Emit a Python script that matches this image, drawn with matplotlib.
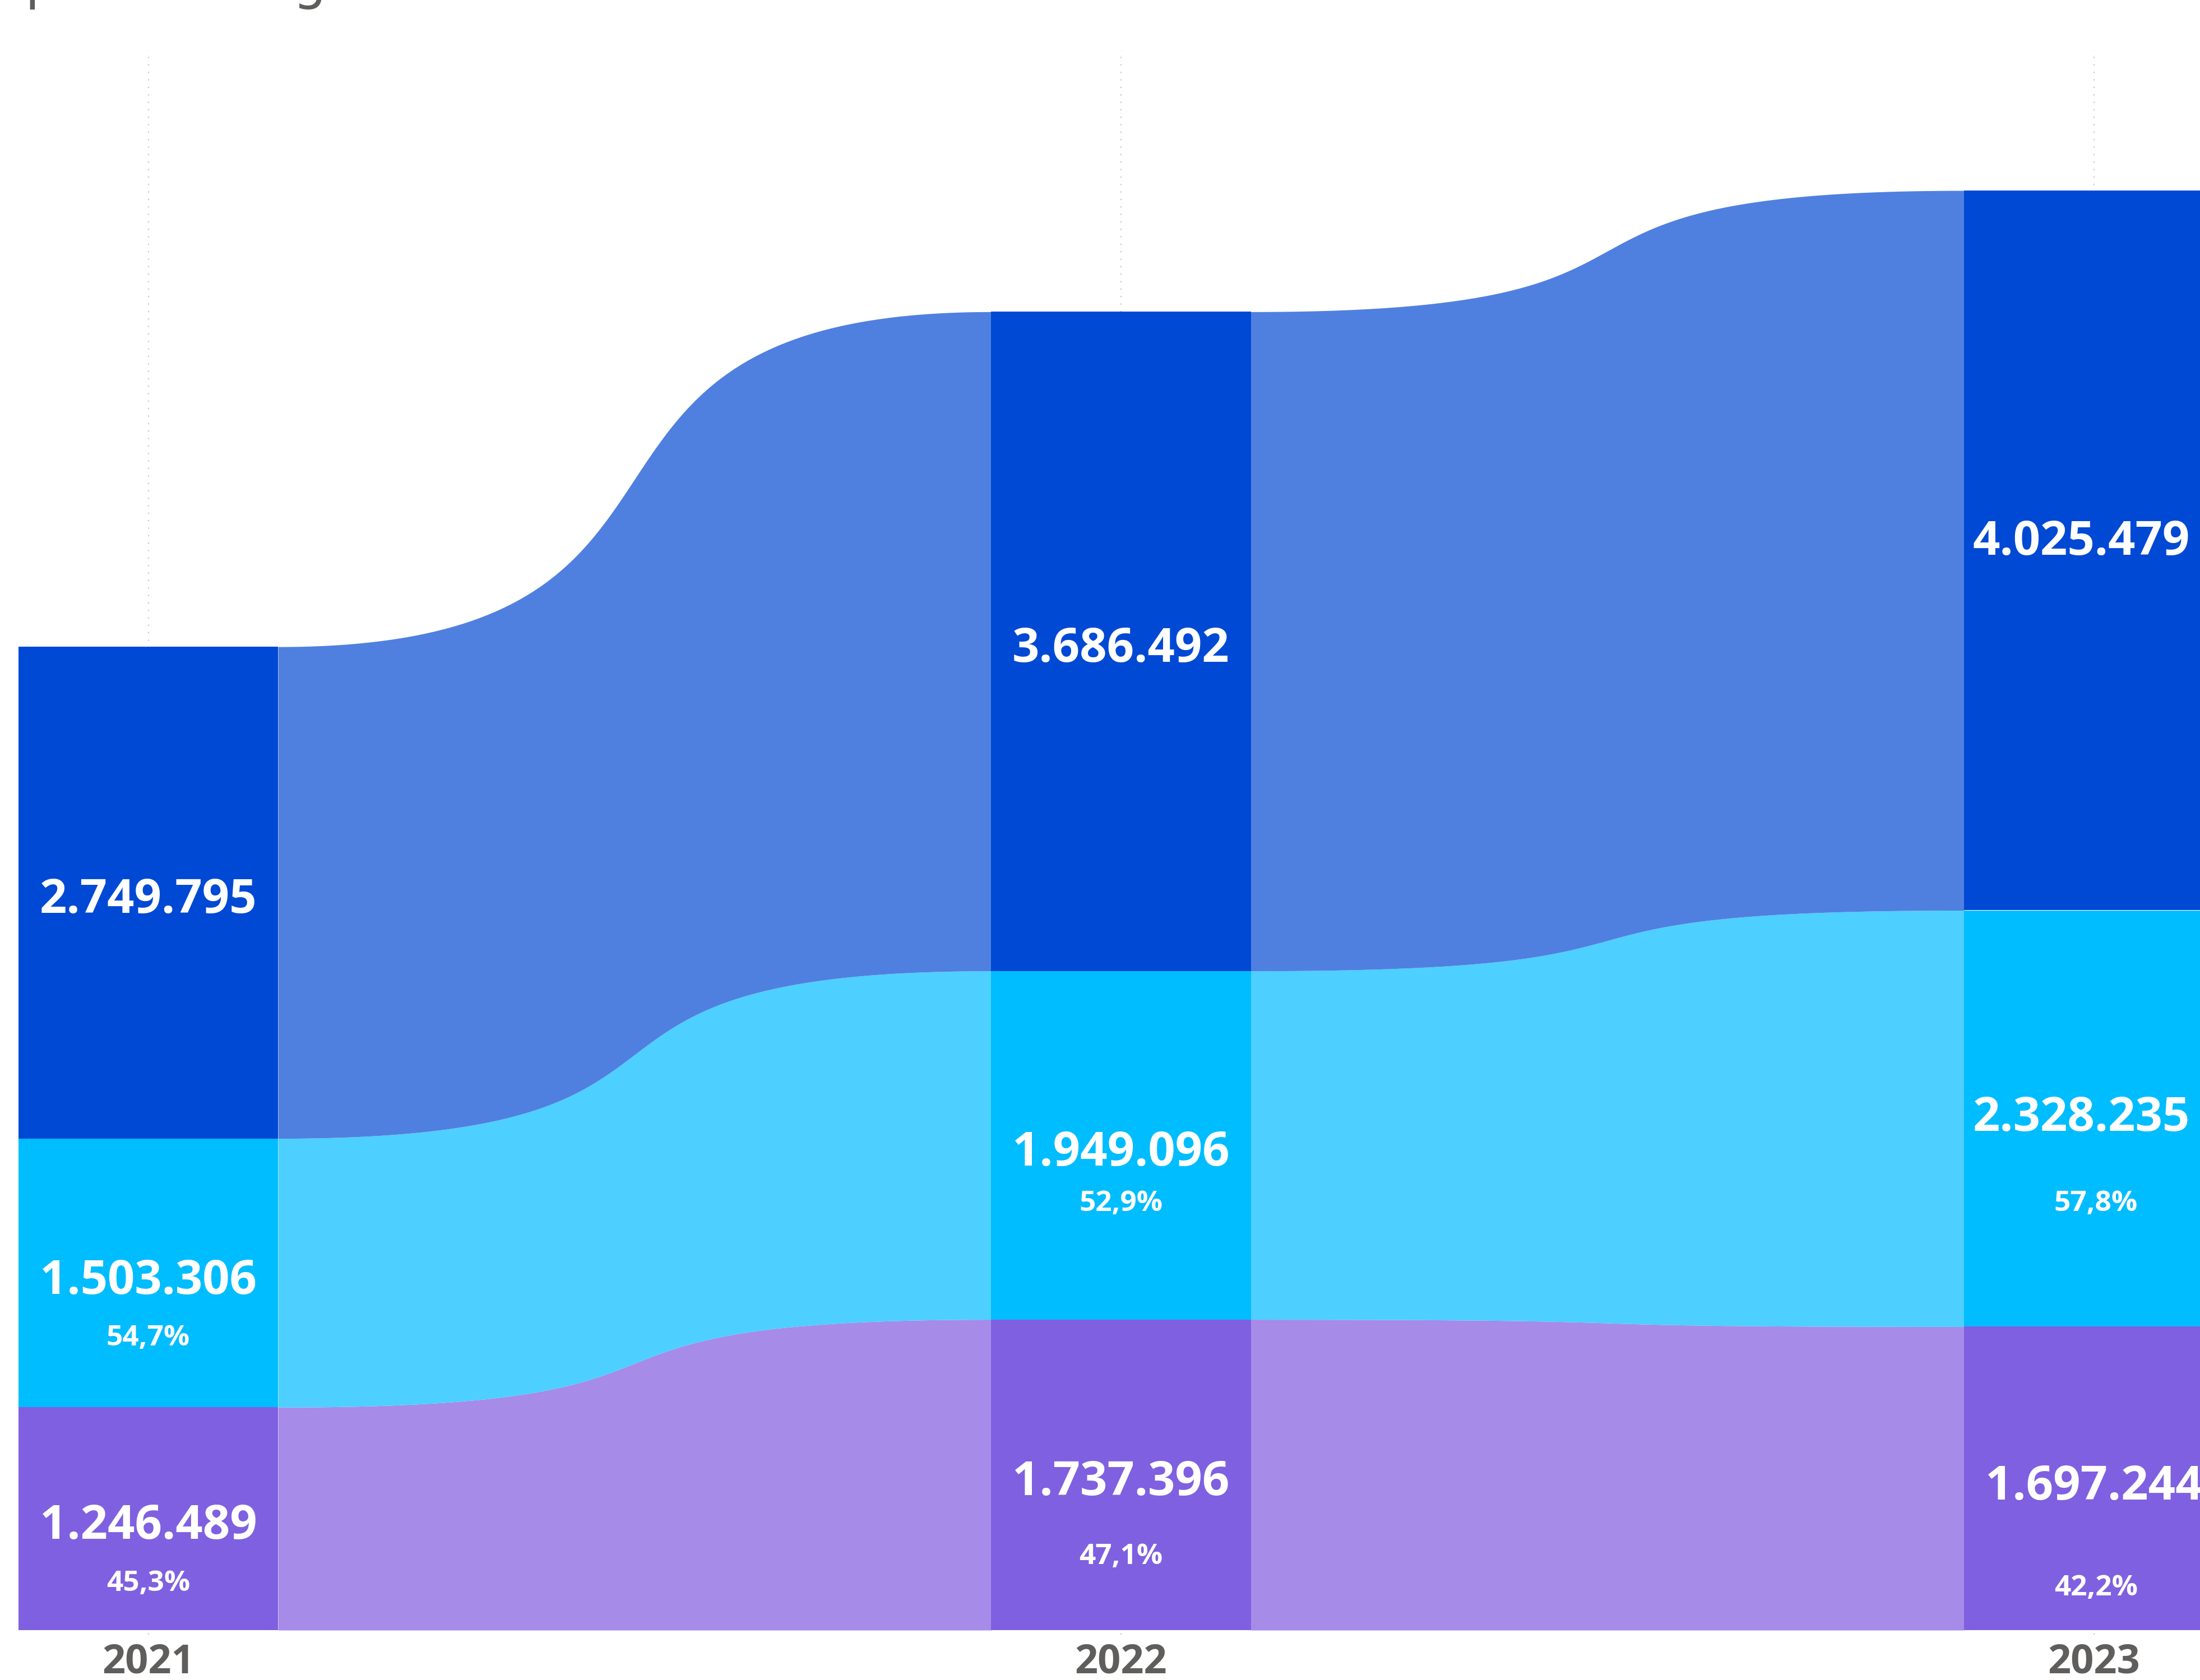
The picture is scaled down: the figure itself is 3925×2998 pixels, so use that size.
"""
plot.py

Ribbon chart: total and split by group, 2021-2023.
"""

import numpy as np
import matplotlib
matplotlib.use("Agg")
import matplotlib.pyplot as plt
from matplotlib.transforms import offset_copy, blended_transform_factory


# -----------------------
# Data
# -----------------------
years = ["2021", "2022", "2023"]
total = [2749795, 3686492, 4025479]
group_a = [1503306, 1949096, 2328235]
group_b = [1246489, 1737396, 1697244]
pct_a = ["54,7%", "52,9%", "57,8%"]
pct_b = ["45,3%", "47,1%", "42,2%"]
title = "precios según año"


# -----------------------
# Style / layout
# -----------------------
W, H, DPI = 3925, 2998, 100
bar_width = 0.2668
label_font = ["Open Sans", "DejaVu Sans"]

bar_colors = ["#7F60E0", "#00BDFF", "#0049D4"]      # b, a, total
ribbon_colors = ["#A68BE8", "#4DCFFF", "#4F80E0"]
grid_color = "#C8C8C8"
text_grey = "#605E5C"

# label nudges in pixels (dx, dy down), per series then per year
value_dy = [[14, 14, 16], [16, 14, 0], [14, 14, -14]]
value_dx = [[0, 0, 0], [0, 0, -22], [0, 0, -22]]
pct_dy = [[116, 146, 196], [117, 104, 152]]
pct_dx = [[0, 0, 4], [0, 0, 4]]


def to_label(v):
    return f"{v:,}".replace(",", ".")


def bezier_edge(x0, x1, y0, y1, c=0.69, n=400):
    """Horizontal-tangent cubic curve from (x0, y0) to (x1, y1)."""
    u = np.linspace(0, 1, n)
    bx = 3 * (1 - u) ** 2 * u * c + 3 * (1 - u) * u ** 2 * (1 - c) + u ** 3
    by = 3 * (1 - u) * u ** 2 + u ** 3
    return x0 + (x1 - x0) * bx, y0 + (y1 - y0) * by


def main():

    fig = plt.figure(figsize=(W / DPI, H / DPI), dpi=DPI)
    ax = fig.add_axes([0, 0, 1, 1])

    x = np.arange(len(years))

    # stacked segments: bottom group_b, then group_a, then total
    heights = [np.array(group_b), np.array(group_a), np.array(total)]
    bottoms = [np.zeros(len(years)), np.array(group_b, dtype=float),
               np.array(group_b, dtype=float) + np.array(group_a)]
    tops = [b + h for b, h in zip(bottoms, heights)]

    px_per_year = 1735.5
    x0_px = 264.5
    base_px = 2909
    top_px = 340
    k = (base_px - top_px) / tops[2].max()

    ax.set_xlim(-x0_px / px_per_year, (W - x0_px) / px_per_year)
    ax.set_ylim(-(H - base_px) / k, base_px / k)
    ax.axis("off")

    # -----------------------
    # Dotted year gridlines
    # -----------------------
    for xi in x:
        ax.axvline(xi, ymin=0.027, ymax=0.97, color=grid_color,
                   lw=1.6, linestyle=(0, (1, 5)), zorder=0)

    # -----------------------
    # Ribbons
    # -----------------------
    for i in range(len(years) - 1):
        xa = x[i] + bar_width / 2
        xb = x[i + 1] - bar_width / 2
        xg = np.linspace(xa, xb, 600)
        for s in range(3):
            lx, ly = bezier_edge(xa, xb, bottoms[s][i], bottoms[s][i + 1])
            ux, uy = bezier_edge(xa, xb, tops[s][i], tops[s][i + 1])
            lower = np.interp(xg, lx, ly)
            upper = np.interp(xg, ux, uy)
            ax.fill_between(xg, lower, upper, color=ribbon_colors[s],
                            lw=0, zorder=1)

    # -----------------------
    # Bars
    # -----------------------
    for s in range(3):
        ax.bar(x, heights[s], bottom=bottoms[s], width=bar_width,
               color=bar_colors[s], linewidth=0, zorder=2)

    # -----------------------
    # Labels
    # -----------------------
    pcts = [pct_b, pct_a]
    for s in range(3):
        for i in range(len(years)):
            mid = bottoms[s][i] + heights[s][i] / 2
            tr = offset_copy(ax.transData, fig=fig, x=value_dx[s][i],
                             y=-value_dy[s][i], units="dots")
            ax.text(x[i], mid, to_label(heights[s][i]), transform=tr,
                    ha="center", va="center", color="white",
                    fontsize=61, fontweight="bold", family=label_font,
                    zorder=3)
            if s < 2:
                tr = offset_copy(ax.transData, fig=fig, x=pct_dx[s][i],
                                 y=-pct_dy[s][i], units="dots")
                ax.text(x[i], mid, pcts[s][i], transform=tr,
                        ha="center", va="center", color="white",
                        fontsize=37, fontweight="bold", family=label_font,
                        zorder=3)

    # year labels under the bars
    blend = blended_transform_factory(ax.transData, ax.transAxes)
    for xi, yr in zip(x, years):
        ax.text(xi, 31 / H, yr, transform=blend, ha="center",
                va="center", color=text_grey, fontsize=52,
                fontweight="bold", family=label_font)

    # title, mostly above the visible canvas
    fig.text(45 / W, 1.0 + 3 / H, title, ha="left", va="baseline",
             color=text_grey, fontsize=68)

    fig.savefig("out.png", dpi=DPI)
    plt.close(fig)


if __name__ == "__main__":
    main()
